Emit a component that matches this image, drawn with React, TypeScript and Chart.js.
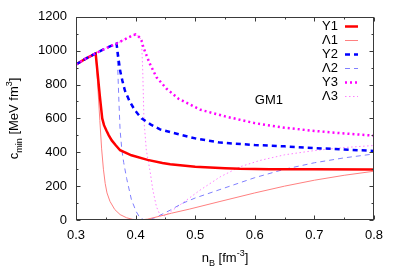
import React, { useEffect, useRef } from 'react';
import { Chart, registerables } from 'chart.js';

Chart.register(...registerables);

const FONT = "'Liberation Sans', Arial, sans-serif";

const xTicks = [0.3, 0.4, 0.5, 0.6, 0.7, 0.8];
const xMinorTicks = [0.35, 0.45, 0.55, 0.65, 0.75];
const yTicks = [0, 200, 400, 600, 800, 1000, 1200];
const yMinorTicks = [100, 300, 500, 700, 900, 1100];

const seriesLabels = ['Y1', 'Λ1', 'Y2', 'Λ2', 'Y3', 'Λ3'];

const y1X = [0.3, 0.315, 0.333, 0.336, 0.34, 0.344, 0.347, 0.351, 0.355, 0.36, 0.367, 0.374, 0.393, 0.42, 0.445, 0.458, 0.5, 0.55, 0.575, 0.625, 0.7, 0.8];
const y1Y = [918, 950, 984, 876, 732, 600, 560, 528, 500, 470, 440, 412, 382, 355, 337, 329, 315, 306, 302, 300, 299, 298];

const l1X = [0.3, 0.315, 0.333, 0.336, 0.34, 0.343, 0.346, 0.349, 0.352, 0.357, 0.365, 0.374, 0.385, 0.395, 0.407, 0.42, 0.44, 0.46, 0.49, 0.54, 0.6, 0.65, 0.7, 0.75, 0.8];
const l1Y = [918, 950, 984, 820, 588, 420, 300, 215, 160, 110, 62, 32, 13, 4, 0, 5, 22, 40, 64, 108, 160, 200, 235, 264, 288];

const y2X = [0.3, 0.315, 0.333, 0.35, 0.368, 0.371, 0.374, 0.378, 0.382, 0.39, 0.399, 0.41, 0.425, 0.441, 0.458, 0.5, 0.542, 0.6, 0.65, 0.7, 0.75, 0.8];
const y2Y = [918, 950, 984, 1014, 1042, 960, 882, 820, 765, 700, 647, 600, 565, 535, 519, 482, 457, 443, 435, 425, 416, 408];

const l2X = [0.3, 0.315, 0.333, 0.35, 0.368, 0.37, 0.372, 0.374, 0.377, 0.38, 0.385, 0.393, 0.401, 0.407, 0.413, 0.42, 0.43, 0.441, 0.458, 0.477, 0.5, 0.54, 0.6, 0.65, 0.7, 0.75, 0.8];
const l2Y = [918, 950, 984, 1014, 1042, 900, 700, 530, 412, 340, 245, 120, 50, 14, 3, 0, 10, 28, 58, 96, 130, 178, 250, 300, 338, 367, 390];

const y3X = [0.3, 0.315, 0.333, 0.35, 0.368, 0.385, 0.395, 0.4, 0.407, 0.41, 0.413, 0.418, 0.424, 0.435, 0.452, 0.472, 0.508, 0.55, 0.6, 0.65, 0.7, 0.75, 0.8];
const y3Y = [918, 950, 984, 1014, 1042, 1072, 1090, 1096, 1078, 1059, 1020, 975, 922, 843, 775, 716, 652, 612, 572, 545, 526, 511, 498];

const l3X = [0.3, 0.315, 0.333, 0.35, 0.368, 0.385, 0.395, 0.4, 0.407, 0.41, 0.412, 0.414, 0.418, 0.424, 0.429, 0.435, 0.441, 0.447, 0.455, 0.474, 0.508, 0.542, 0.575, 0.609, 0.65, 0.7, 0.75, 0.8];
const l3Y = [918, 950, 984, 1014, 1042, 1072, 1090, 1096, 1078, 1059, 880, 590, 412, 294, 176, 78, 30, 22, 40, 88, 176, 255, 314, 352, 385, 410, 428, 440];

const annotationText = 'GM1';
const annotationPos = [0.6, 706];

type Seg = { t: string; s: number };

function drawRich(ctx: CanvasRenderingContext2D, segs: Seg[], size: number, small: number) {
  const widths = segs.map((sg) => {
    ctx.font = `${sg.s === 0 ? size : small}px ${FONT}`;
    return ctx.measureText(sg.t).width;
  });
  const total = widths.reduce((a, b) => a + b, 0);
  let cx = -total / 2;
  segs.forEach((sg, i) => {
    ctx.font = `${sg.s === 0 ? size : small}px ${FONT}`;
    const dy = sg.s === 0 ? 0 : sg.s < 0 ? 4 : -6;
    ctx.fillText(sg.t, cx, dy);
    cx += widths[i];
  });
}

const overlayPlugin = {
  id: 'overlay',
  afterDraw(chart: any) {
    const { ctx, chartArea: a, scales } = chart;
    const xs = scales.x;
    const ys = scales.y;
    ctx.save();
    const L = Math.round(a.left) + 0.5;
    const R = Math.round(a.right) - 0.5;
    const T = Math.round(a.top) + 0.5;
    const B = Math.round(a.bottom) - 0.5;
    ctx.strokeStyle = '#3a3a3a';
    ctx.lineWidth = 1;
    ctx.beginPath();
    const tick = (x1: number, y1: number, x2: number, y2: number) => {
      ctx.moveTo(x1, y1);
      ctx.lineTo(x2, y2);
    };
    xTicks.forEach((v) => {
      const p = Math.round(xs.getPixelForValue(v)) + 0.5;
      tick(p, B, p, B - 4);
      tick(p, T, p, T + 4);
    });
    xMinorTicks.forEach((v) => {
      const p = Math.round(xs.getPixelForValue(v)) + 0.5;
      tick(p, B, p, B - 2);
      tick(p, T, p, T + 2);
    });
    yTicks.forEach((v) => {
      const p = Math.round(ys.getPixelForValue(v)) + 0.5;
      tick(L, p, L + 4, p);
      tick(R, p, R - 4, p);
    });
    yMinorTicks.forEach((v) => {
      const p = Math.round(ys.getPixelForValue(v)) + 0.5;
      tick(L, p, L + 2, p);
      tick(R, p, R - 2, p);
    });
    ctx.stroke();
    ctx.strokeRect(L, T, R - L, B - T);

    // legend
    ctx.fillStyle = '#000';
    ctx.textBaseline = 'middle';
    ctx.textAlign = 'right';
    ctx.font = `13px ${FONT}`;
    chart.data.datasets.forEach((ds: any, i: number) => {
      const yy = 26.5 + i * 14;
      ctx.fillText(ds.label, 338, yy);
      ctx.save();
      ctx.strokeStyle = ds.borderColor;
      ctx.lineWidth = ds.borderWidth;
      ctx.setLineDash(ds.borderDash || []);
      ctx.beginPath();
      ctx.moveTo(345, yy);
      ctx.lineTo(358, yy);
      ctx.stroke();
      ctx.restore();
    });

    // annotation
    ctx.textAlign = 'left';
    ctx.fillText(annotationText, xs.getPixelForValue(annotationPos[0]), ys.getPixelForValue(annotationPos[1]));

    // axis titles
    ctx.textAlign = 'left';
    ctx.textBaseline = 'alphabetic';
    ctx.save();
    ctx.translate((a.left + a.right) / 2, 262);
    drawRich(ctx, [
      { t: 'n', s: 0 },
      { t: 'B', s: -1 },
      { t: ' [fm', s: 0 },
      { t: '-3', s: 1 },
      { t: ']', s: 0 },
    ], 13, 9);
    ctx.restore();
    ctx.save();
    ctx.translate(18, (a.top + a.bottom) / 2);
    ctx.rotate(-Math.PI / 2);
    drawRich(ctx, [
      { t: 'c', s: 0 },
      { t: 'min', s: -1 },
      { t: ' [MeV fm', s: 0 },
      { t: '3', s: 1 },
      { t: ']', s: 0 },
    ], 13, 9);
    ctx.restore();
    ctx.restore();
  },
};

function pts(xs: number[], ys: number[]) {
  return xs.map((x, i) => ({ x, y: ys[i] }));
}

export default function App() {
  const ref = useRef<HTMLCanvasElement>(null);
  useEffect(() => {
    if (!ref.current) return;
    const common = { pointRadius: 0, fill: false, tension: 0 };
    const chart = new Chart(ref.current, {
      type: 'line',
      data: {
        datasets: [
          { ...common, label: seriesLabels[0], data: pts(y1X, y1Y), borderColor: '#ff0000', borderWidth: 2.5, order: 3 },
          { ...common, label: seriesLabels[1], data: pts(l1X, l1Y), borderColor: '#ff8080', borderWidth: 1, order: 4 },
          { ...common, label: seriesLabels[2], data: pts(y2X, y2Y), borderColor: '#0000ff', borderWidth: 2.5, borderDash: [5, 4], order: 2 },
          { ...common, label: seriesLabels[3], data: pts(l2X, l2Y), borderColor: '#8080ff', borderWidth: 1, borderDash: [5, 4], order: 5 },
          { ...common, label: seriesLabels[4], data: pts(y3X, y3Y), borderColor: '#ff00ff', borderWidth: 2.5, borderDash: [2, 3], order: 1 },
          { ...common, label: seriesLabels[5], data: pts(l3X, l3Y), borderColor: '#ff80ff', borderWidth: 1, borderDash: [1.5, 2.5], order: 6 },
        ] as any,
      },
      options: {
        animation: false,
        responsive: false,
        events: [],
        layout: { padding: { left: 0, right: 25, top: 16, bottom: 0 } },
        plugins: { legend: { display: false }, tooltip: { enabled: false } },
        scales: {
          x: {
            type: 'linear',
            min: 0.3,
            max: 0.8,
            grid: { display: false, drawTicks: false },
            border: { display: false },
            afterBuildTicks: (s: any) => { s.ticks = xTicks.map((v) => ({ value: v })); },
            afterFit: (s: any) => { s.height = 59; },
            ticks: {
              padding: 8,
              color: '#000',
              font: { family: FONT, size: 13 },
              maxRotation: 0,
              callback: (v: any) => Number(v).toFixed(1),
            },
          },
          y: {
            type: 'linear',
            min: 0,
            max: 1200,
            grid: { display: false, drawTicks: false },
            border: { display: false },
            afterBuildTicks: (s: any) => { s.ticks = yTicks.map((v) => ({ value: v })); },
            afterFit: (s: any) => { s.width = 76; },
            ticks: {
              padding: 9,
              color: '#000',
              font: { family: FONT, size: 13 },
              callback: (v: any) => String(v),
            },
          },
        },
      },
      plugins: [overlayPlugin],
    } as any);
    return () => chart.destroy();
  }, []);
  return (
    <div style={{ position: 'fixed', left: 0, top: 0, width: 399, height: 279, background: '#fff' }}>
      <canvas ref={ref} width={399} height={279} style={{ display: 'block' }} />
    </div>
  );
}
